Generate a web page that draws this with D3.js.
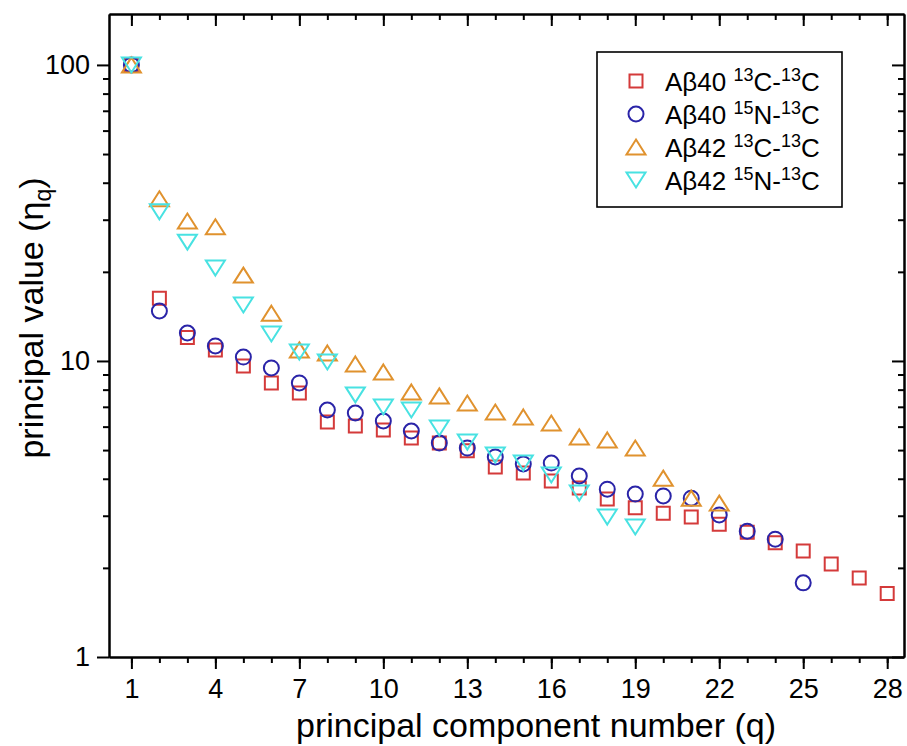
<!DOCTYPE html>
<html>
<head>
<meta charset="utf-8">
<script src="https://cdn.jsdelivr.net/npm/d3@7"></script>
<style>
  html, body { margin: 0; padding: 0; background: #ffffff; }
  svg { display: block; }
  text { font-family: "Liberation Sans", Arial, Helvetica, sans-serif; fill: #000; }
</style>
</head>
<body>
<svg id="chart" width="907" height="746"></svg>
<script>
// ---------------- data ----------------
const qValues = [1,2,3,4,5,6,7,8,9,10,11,12,13,14,15,16,17,18,19,20,21,22,23,24,25,26,27,28];
const ab40CC = [100,16.3,12.0,10.9,9.62,8.43,7.80,6.22,6.03,5.85,5.49,5.28,4.97,4.38,4.18,3.93,3.72,3.42,3.19,3.06,2.97,2.81,2.64,2.43,2.28,2.06,1.85,1.64];
const ab40NC = [100,14.75,12.43,11.24,10.31,9.47,8.43,6.83,6.67,6.27,5.80,5.28,5.08,4.74,4.49,4.52,4.09,3.69,3.55,3.50,3.44,3.02,2.66,2.50,1.78];
const ab42CC = [100,35.3,29.7,28.4,19.5,14.5,10.9,10.64,9.77,9.18,7.86,7.62,7.21,6.72,6.47,6.17,5.54,5.41,5.08,4.02,3.44,3.31];
const ab42NC = [100,31.9,25.2,20.6,15.46,12.34,10.72,9.92,7.68,6.99,6.83,5.94,5.32,4.81,4.52,4.12,3.58,2.97,2.75];
const xMajorTicks = [1,4,7,10,13,16,19,22,25,28];
const yMajorTicks = [1,10,100];
const yMinorTicks = [2,3,4,5,6,7,8,9,20,30,40,50,60,70,80,90];
const seriesNames = [
  {name:"A\u03B240", a:"13", b:"C-", c:"13", d:"C"},
  {name:"A\u03B240", a:"15", b:"N-", c:"13", d:"C"},
  {name:"A\u03B242", a:"13", b:"C-", c:"13", d:"C"},
  {name:"A\u03B242", a:"15", b:"N-", c:"13", d:"C"}
];
const seriesColors = ["#d43a3a", "#2a24a8", "#e0922e", "#48e2e2"];
const seriesShapes = ["square", "circle", "triUp", "triDown"];
const seriesValues = [ab40CC, ab40NC, ab42CC, ab42NC];

// ---------------- layout ----------------
const svg = d3.select("#chart");
const L = 109, R = 904, T = 14, B = 657;

const x = d3.scaleLinear().domain([0.2, 28.6]).range([L, R]);
const y = d3.scaleLog().domain([1, 148.6]).range([B, T]);

const FONT_TICK = 27;

function styleAxis(g) {
  g.selectAll("path.domain").attr("stroke", "#000").attr("stroke-width", 2);
  g.selectAll(".tick line").attr("stroke", "#000").attr("stroke-width", 2);
  g.selectAll(".tick text").style("font-size", FONT_TICK + "px")
    .style("font-family", "\"Liberation Sans\", Arial, sans-serif").attr("fill", "#000");
}

// bottom axis
svg.append("g").attr("transform", `translate(0,${B})`)
  .call(d3.axisBottom(x).tickValues(qValues).tickSize(6).tickSizeOuter(0).tickFormat(""))
  .call(styleAxis);
svg.append("g").attr("transform", `translate(0,${B})`)
  .call(d3.axisBottom(x).tickValues(xMajorTicks).tickSize(12).tickPadding(10).tickSizeOuter(0).tickFormat(d3.format("d")))
  .call(styleAxis);
// top axis (inward)
svg.append("g").attr("transform", `translate(0,${T})`)
  .call(d3.axisTop(x).tickValues(qValues).tickSize(-6).tickSizeOuter(0).tickFormat(""))
  .call(styleAxis);
svg.append("g").attr("transform", `translate(0,${T})`)
  .call(d3.axisTop(x).tickValues(xMajorTicks).tickSize(-12).tickSizeOuter(0).tickFormat(""))
  .call(styleAxis);
// left axis
svg.append("g").attr("transform", `translate(${L},0)`)
  .call(d3.axisLeft(y).tickValues(yMinorTicks).tickSize(6).tickSizeOuter(0).tickFormat(""))
  .call(styleAxis);
svg.append("g").attr("transform", `translate(${L},0)`)
  .call(d3.axisLeft(y).tickValues(yMajorTicks).tickSize(12).tickPadding(7).tickSizeOuter(0).tickFormat(d3.format("d")))
  .call(styleAxis);
// right axis (inward)
svg.append("g").attr("transform", `translate(${R},0)`)
  .call(d3.axisRight(y).tickValues(yMinorTicks).tickSize(-6).tickSizeOuter(0).tickFormat(""))
  .call(styleAxis);
svg.append("g").attr("transform", `translate(${R},0)`)
  .call(d3.axisRight(y).tickValues(yMajorTicks).tickSize(-12).tickSizeOuter(0).tickFormat(""))
  .call(styleAxis);

// ---------------- markers ----------------
function shapePath(shape) {
  if (shape === "square") { const s = 6.5; return `M${-s},${-s}H${s}V${s}H${-s}Z`; }
  if (shape === "circle") { const r = 7.5; return `M${r},0A${r},${r} 0 1,1 ${-r},0A${r},${r} 0 1,1 ${r},0Z`; }
  if (shape === "triUp") { const w = 9.5, h = 7.5; return `M0,${-h}L${w},${h}L${-w},${h}Z`; }
  const w = 9.5, h = 7.5; return `M0,${h}L${w},${-h}L${-w},${-h}Z`;
}

seriesValues.forEach((vals, i) => {
  svg.append("g")
    .selectAll("path")
    .data(vals.map((v, j) => ({q: qValues[j], v})))
    .join("path")
    .attr("transform", d => `translate(${x(d.q)},${y(d.v)})`)
    .attr("d", shapePath(seriesShapes[i]))
    .attr("fill", "none")
    .attr("stroke", seriesColors[i])
    .attr("stroke-width", 2);
});

// ---------------- legend ----------------
const leg = svg.append("g");
leg.append("rect").attr("x", 597).attr("y", 52).attr("width", 245).attr("height", 155)
  .attr("fill", "#fff").attr("stroke", "#000").attr("stroke-width", 1.6);
seriesNames.forEach((s, i) => {
  const cy = 81 + i * 33;
  leg.append("path").attr("transform", `translate(636,${cy})`)
    .attr("d", shapePath(seriesShapes[i]))
    .attr("fill", "none").attr("stroke", seriesColors[i]).attr("stroke-width", 2);
  const t = leg.append("text").attr("x", 665).attr("y", cy + 9.5).style("font-size", "26px");
  t.append("tspan").text(s.name + " ");
  t.append("tspan").attr("dy", -10).style("font-size", "18px").text(s.a);
  t.append("tspan").attr("dy", 10).text(s.b);
  t.append("tspan").attr("dy", -10).style("font-size", "18px").text(s.c);
  t.append("tspan").attr("dy", 10).text(s.d);
});

// ---------------- axis titles ----------------
svg.append("text").attr("x", 536).attr("y", 737).attr("text-anchor", "middle")
  .style("font-size", "34px").text("principal component number (q)");

const yt = svg.append("text").attr("transform", "translate(43,318) rotate(-90)")
  .attr("text-anchor", "middle").style("font-size", "34px");
yt.append("tspan").text("principal value (\u03B7");
yt.append("tspan").attr("dy", 8).style("font-size", "23px").text("q");
yt.append("tspan").attr("dy", -8).text(")");
</script>
</body>
</html>
